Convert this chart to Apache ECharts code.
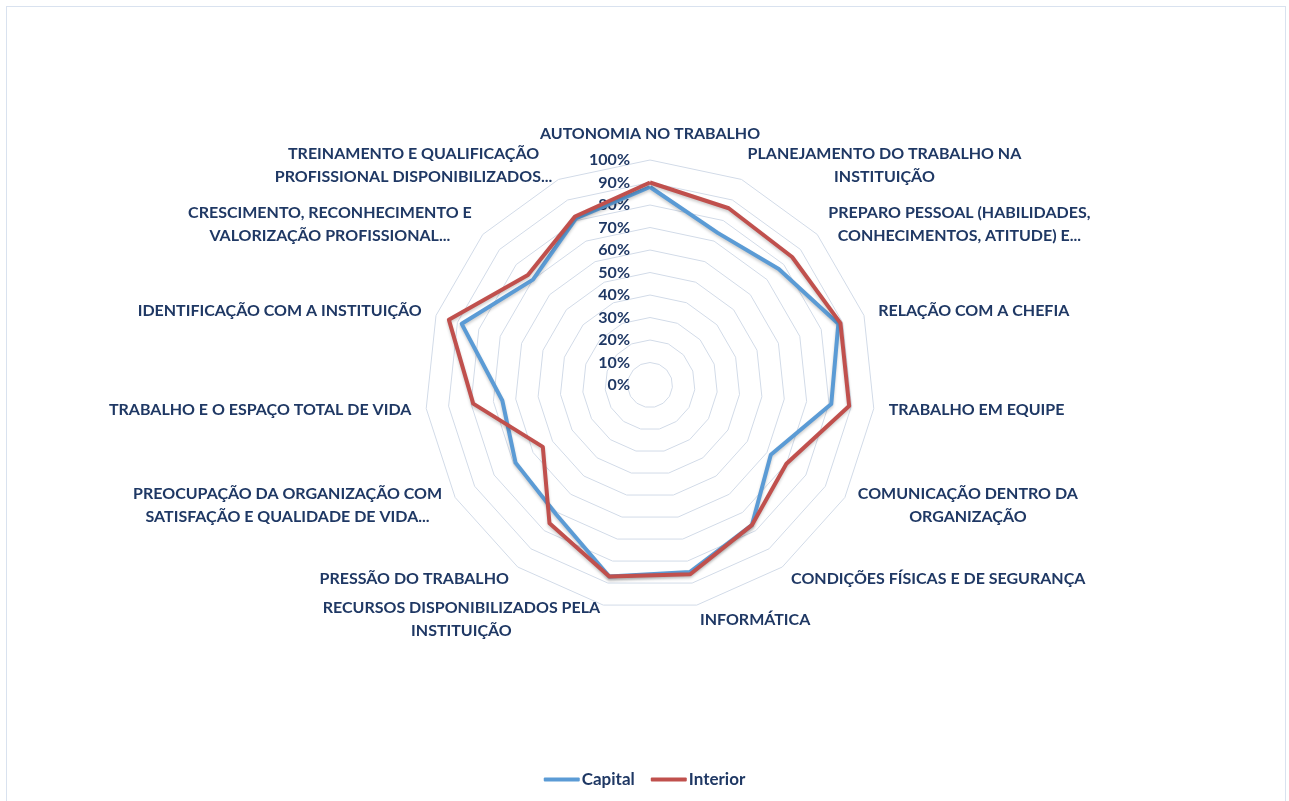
<!DOCTYPE html>
<html>
<head>
<meta charset="utf-8">
<script src="https://cdn.jsdelivr.net/npm/echarts@6/dist/echarts.min.js"></script>
<style>
  html, body { margin: 0; padding: 0; background: #fff; }
  #frame {
    position: absolute; left: 6px; top: 6px; width: 1280px; height: 800px;
    border: 1px solid #d9e2ef; border-bottom: none; box-sizing: border-box;
  }
  #chart { width: 1289px; height: 801px; position: absolute; left: 0; top: 0; }
</style>
</head>
<body>
<div id="frame"></div>
<div id="chart"></div>
<script>
// indicators, clockwise from the top
const categories = [
  "AUTONOMIA NO TRABALHO",
  "PLANEJAMENTO DO TRABALHO NA\nINSTITUIÇÃO",
  "PREPARO PESSOAL (HABILIDADES,\nCONHECIMENTOS, ATITUDE) E...",
  "RELAÇÃO COM A CHEFIA",
  "TRABALHO EM EQUIPE",
  "COMUNICAÇÃO DENTRO DA\nORGANIZAÇÃO",
  "CONDIÇÕES FÍSICAS E DE SEGURANÇA",
  "INFORMÁTICA",
  "RECURSOS DISPONIBILIZADOS PELA\nINSTITUIÇÃO",
  "PRESSÃO DO TRABALHO",
  "PREOCUPAÇÃO DA ORGANIZAÇÃO COM\nSATISFAÇÃO E QUALIDADE DE VIDA...",
  "TRABALHO E O ESPAÇO TOTAL DE VIDA",
  "IDENTIFICAÇÃO COM A INSTITUIÇÃO",
  "CRESCIMENTO, RECONHECIMENTO E\nVALORIZAÇÃO PROFISSIONAL...",
  "TREINAMENTO E QUALIFICAÇÃO\nPROFISSIONAL DISPONIBILIZADOS..."
];

// percentages (same order as categories)
const capital  = [88, 74, 77, 88, 81, 62, 77, 85, 87, 71, 69, 66, 88, 70, 81];
const interior = [90, 86, 85, 89, 89, 70, 77, 86, 87, 76, 55, 79, 94, 73, 82];

const seriesNames = ["Capital", "Interior"];
const AXIS_MAX = 100;
const SPLITS = 10;

const TEXT = "#1f3864";
const FONT = "Lato, 'Open Sans', sans-serif";
const FS = 16;

// echarts lays radar axes out counter-clockwise, so keep the first one and flip the rest
const order = categories.map((_, i) => (i === 0 ? 0 : categories.length - i));
const pick = arr => order.map(i => arr[i]);

const chart = echarts.init(document.getElementById("chart"), null, { renderer: "canvas" });

const indicator = pick(categories).map((name, i) => {
  const ind = { name: name, min: 0, max: AXIS_MAX };
  if (i === 0) {
    // only the top axis carries the 0%..100% labels
    ind.axisLabel = {
      show: true,
      formatter: v => v + "%",
      color: TEXT,
      fontWeight: "bold",
      fontSize: FS,
      fontFamily: FONT,
      margin: 20
    };
  }
  return ind;
});

const option = {
  backgroundColor: "transparent",
  animation: false,
  legend: {
    data: seriesNames,
    bottom: 8,
    left: "center",
    itemWidth: 36,
    itemHeight: 4,
    itemGap: 16,
    textStyle: { color: TEXT, fontWeight: "bold", fontSize: 17, fontFamily: FONT, padding: [0, 0, 0, -3] }
  },
  radar: {
    center: [650, 385],
    radius: 225,
    shape: "polygon",
    splitNumber: SPLITS,
    startAngle: 90,
    indicator: indicator,
    axisName: {
      color: TEXT,
      fontWeight: "bold",
      fontSize: FS,
      fontFamily: FONT,
      formatter: name => name.split("\n").map(l => "{c|" + l + "}").join("\n"),
      rich: {
        c: { align: "center", color: TEXT, fontWeight: "bold", fontSize: FS, fontFamily: FONT, lineHeight: 23 }
      }
    },
    nameGap: 15,
    axisLine: { show: false },
    axisTick: { show: false },
    axisLabel: { show: false },
    splitArea: { show: false },
    splitLine: { lineStyle: { color: "#d2dbe8", width: 1 } }
  },
  series: [{
    type: "radar",
    symbol: "none",
    data: [
      { name: seriesNames[0], value: pick(capital),
        lineStyle: { color: "#5b9bd5", width: 4, shadowColor: "rgba(0,0,0,0.2)", shadowBlur: 3, shadowOffsetY: 2 },
        itemStyle: { color: "#5b9bd5" } },
      { name: seriesNames[1], value: pick(interior),
        lineStyle: { color: "#c0504d", width: 4, shadowColor: "rgba(0,0,0,0.2)", shadowBlur: 3, shadowOffsetY: 2 },
        itemStyle: { color: "#c0504d" } }
    ]
  }]
};

chart.setOption(option);
</script>
</body>
</html>
